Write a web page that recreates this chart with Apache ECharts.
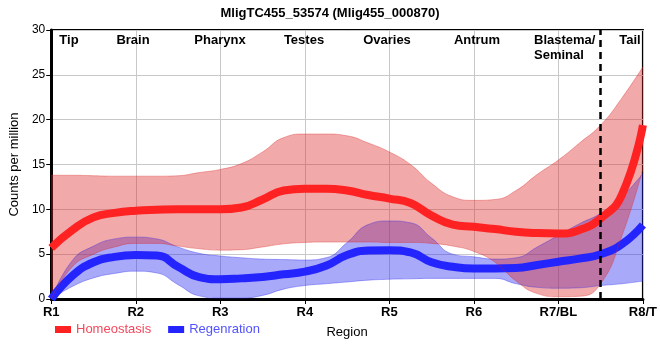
<!DOCTYPE html>
<html>
<head>
<meta charset="utf-8">
<script src="https://cdn.jsdelivr.net/npm/echarts@6/dist/echarts.min.js"></script>
<style>html,body{margin:0;padding:0;background:#fff}#c{width:660px;height:360px}</style>
</head>
<body>
<div id="c"></div>
<script>
// Region tick labels along the body axis
var tickLabels = ['R1', 'R2', 'R3', 'R4', 'R5', 'R6', 'R7/BL', 'R8/T'];
// Anatomical region names (top annotations)
var regionNames = ['Tip', 'Brain', 'Pharynx', 'Testes', 'Ovaries', 'Antrum', 'Blastema/\nSeminal', 'Tail'];
// sample positions along the region axis (0 = R1 ... 7 = R8/T), every quarter region
var xs = ['0', '0.25', '0.5', '0.75', '1', '1.25', '1.5', '1.75', '2', '2.25', '2.5', '2.75', '3', '3.25', '3.5', '3.75', '4', '4.25', '4.5', '4.75', '5', '5.25', '5.5', '5.75', '6', '6.25', '6.5', '6.75', '7'];
// Homeostasis
var homMean = [5.7, 7.7, 9.1, 9.6, 9.85, 9.95, 10.0, 10.0, 10.0, 10.2, 11.1, 12.1, 12.3, 12.3, 12.1, 11.6, 11.2, 10.7, 9.3, 8.3, 8.05, 7.8, 7.5, 7.35, 7.3, 7.7, 9.0, 11.6, 19.4];
var homHigh = [13.8, 13.8, 13.75, 13.7, 13.7, 13.7, 13.75, 14.1, 14.45, 15.1, 16.4, 18.0, 18.4, 18.4, 18.2, 17.4, 16.4, 15.0, 12.9, 11.4, 11.0, 11.1, 12.1, 13.9, 15.5, 17.4, 19.4, 22.4, 25.9];
var homLow  = [0, 3.6, 5.0, 5.8, 6.2, 6.2, 5.9, 5.6, 5.45, 5.5, 5.8, 6.15, 6.3, 6.35, 6.35, 6.35, 6.3, 6.3, 6.2, 5.9, 5.3, 4.1, 2.0, 0.6, 0.25, 0.3, 1.7, 7.0, 14.5];
// Regeneration
var regMean = [0, 2.6, 4.1, 4.7, 4.9, 4.85, 3.6, 2.45, 2.2, 2.3, 2.45, 2.75, 3.05, 3.7, 4.9, 5.4, 5.45, 5.2, 4.1, 3.6, 3.4, 3.4, 3.45, 3.8, 4.15, 4.5, 5.0, 6.1, 8.25];
var regHigh = [0, 4.3, 5.9, 6.7, 6.9, 6.7, 5.8, 5.1, 4.8, 4.6, 4.45, 4.4, 4.35, 4.6, 6.3, 8.3, 8.7, 8.5, 6.8, 5.0, 4.7, 4.45, 4.6, 5.8, 7.1, 8.4, 9.55, 11.4, 14.0];
var regLow  = [0, 1.4, 2.35, 2.85, 3.1, 2.9, 1.6, 0.35, 0.1, 0.1, 0.4, 1.1, 1.5, 1.7, 1.9, 2.1, 2.2, 2.25, 2.3, 2.3, 2.3, 2.3, 1.7, 1.3, 1.2, 1.25, 1.5, 1.7, 2.0];
var splitAt = '6.5'; // boundary between R7/BL and R8/T (dashed)

var FONT = 'Liberation Sans, Arial, sans-serif';
var STEP = 4; // samples per region
function diff(h, l) { return h.map(function (v, i) { return +(v - l[i]).toFixed(3); }); }

var redBand = 'rgba(220,40,40,0.4)';
var blueBand = 'rgba(40,40,240,0.4)';

var chart = echarts.init(document.getElementById('c'), null, { renderer: 'canvas' });

// region label positions (pixels) for the top annotations
var labelX = [69, 133, 220, 304, 387, 477, 534, 630];
var graphics = regionNames.map(function (n, i) {
  return {
    type: 'text', x: labelX[i], y: 33, z: 100,
    style: { text: n, font: 'bold 13px ' + FONT, fill: '#000',
      textAlign: i === 6 ? 'left' : 'center', textVerticalAlign: 'top', lineHeight: 15 }
  };
});

function bandSeries(stack, low, high, col, edge) {
  return [
    { type: 'line', stack: stack, data: low, smooth: true, symbol: 'none', silent: true,
      lineStyle: { width: 1, color: edge }, z: 2 },
    { type: 'line', stack: stack, data: diff(high, low), smooth: true, symbol: 'none', silent: true,
      lineStyle: { width: 1, color: edge }, areaStyle: { color: col, opacity: 1 }, z: 2 }
  ];
}

var series = [].concat(
  bandSeries('reg', regLow, regHigh, blueBand, 'rgba(40,40,240,0.35)'),
  [{ name: 'Regenration', type: 'line', data: regMean, smooth: true, symbol: 'none',
     color: '#2424ff', lineStyle: { width: 8, color: '#2424ff' }, z: 2 }],
  bandSeries('hom', homLow, homHigh, redBand, 'rgba(220,40,40,0.35)'),
  [{ name: 'Homeostasis', type: 'line', data: homMean, smooth: true, symbol: 'none',
     color: '#ff2222', lineStyle: { width: 8, color: '#ff2222' }, z: 2,
     markLine: { silent: true, symbol: 'none', label: { show: false },
       lineStyle: { color: '#000', width: 2.5, type: [7, 5] },
       data: [{ xAxis: splitAt }] } }]
);

chart.setOption({
  animation: false,
  backgroundColor: '#fff',
  textStyle: { fontFamily: FONT },
  title: { text: 'MligTC455_53574 (Mlig455_000870)', left: 'center', top: 2,
    textStyle: { fontSize: 13, fontWeight: 'bold', color: '#000', fontFamily: FONT } },
  grid: { left: 50, right: 10, top: 30, bottom: 61, show: true, borderColor: '#000', borderWidth: 2, backgroundColor: '#fff' },
  legend: {
    left: 50, top: 318, itemWidth: 16, itemHeight: 7, itemGap: 17, icon: 'rect',
    data: [
      { name: 'Homeostasis', textStyle: { color: '#f5475c' } },
      { name: 'Regenration', textStyle: { color: '#5252ff' } }
    ],
    textStyle: { fontSize: 13, fontFamily: FONT }
  },
  xAxis: {
    type: 'category', data: xs, boundaryGap: false,
    name: 'Region', nameLocation: 'middle', nameGap: 27,
    nameTextStyle: { fontSize: 13, color: '#000', fontFamily: FONT },
    axisLine: { show: true, lineStyle: { color: '#000', width: 3 } },
    axisTick: { show: true, interval: STEP - 1, length: 5, lineStyle: { color: '#000', width: 1 } },
    axisLabel: { interval: STEP - 1, formatter: function (v, idx) { return tickLabels[idx / STEP] || ''; },
      fontSize: 13, fontWeight: 'bold', color: '#000', margin: 7, fontFamily: FONT },
    splitLine: { show: true, interval: STEP - 1, lineStyle: { color: '#c8c8c8', width: 1 } }
  },
  yAxis: {
    type: 'value', min: 0, max: 30, interval: 5,
    name: 'Counts per million', nameLocation: 'middle', nameGap: 30,
    nameTextStyle: { fontSize: 13, color: '#000', fontFamily: FONT },
    axisLine: { show: true, lineStyle: { color: '#000', width: 3 } },
    axisTick: { show: true, length: 5, lineStyle: { color: '#000', width: 1 } },
    axisLabel: { fontSize: 12, color: '#000', margin: 6, fontFamily: FONT },
    splitLine: { show: true, lineStyle: { color: '#c8c8c8', width: 1 } }
  },
  graphic: graphics,
  series: series
});
</script>
</body>
</html>
